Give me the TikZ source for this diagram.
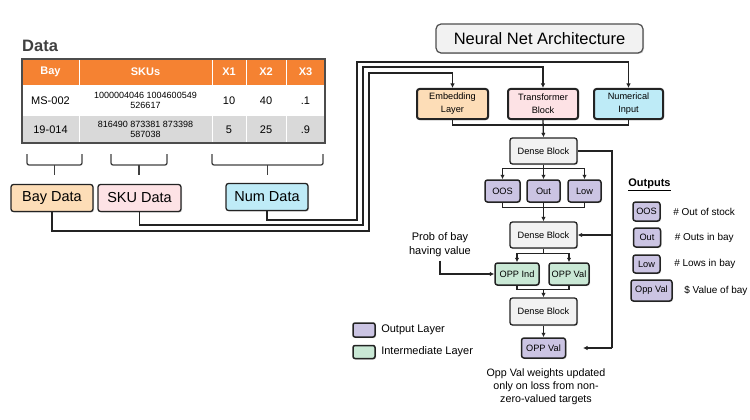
\documentclass[tikz,border=0pt]{standalone}
\usepackage{fontspec}
\setmainfont{Liberation Sans}
\usetikzlibrary{arrows.meta,positioning,shadows}
\definecolor{ink}{RGB}{35,35,35}
\definecolor{titlegray}{RGB}{64,64,64}
\definecolor{hdrorange}{RGB}{245,130,50}
\definecolor{rowgray}{RGB}{217,217,217}
\definecolor{peach}{RGB}{253,221,183}
\definecolor{pinkish}{RGB}{253,226,229}
\definecolor{skyblue}{RGB}{190,235,247}
\definecolor{lgray}{RGB}{242,242,242}
\definecolor{lilac}{RGB}{203,196,227}
\definecolor{mint}{RGB}{201,232,213}
\newcommand{\fsz}[2]{\fontsize{#1}{#2}\selectfont}
\begin{document}
\begin{tikzpicture}[x=1pt,y=-1pt,
    ln/.style={draw=ink,line width=1.3pt},
    arr/.style={ln,-{Latex[length=4.5pt,width=4.5pt]}},
    blk/.style={draw=ink,rounded corners=2.5pt,align=center,inner sep=1pt,
      drop shadow={shadow xshift=1pt,shadow yshift=-1pt,opacity=.35}},
    datbox/.style={blk,line width=1.3pt,minimum width=82,minimum height=27,font=\fsz{14.5}{16}},
    netbox/.style={blk,line width=2pt,minimum width=70,minimum height=30,font=\fsz{9.2}{13}},
    dense/.style={blk,fill=lgray,line width=1.3pt,minimum width=67,minimum height=26,font=\fsz{9.2}{11}},
    outbox/.style={blk,fill=lilac,line width=1.5pt,minimum height=22,font=\fsz{9.2}{11}},
    midbox/.style={blk,fill=mint,line width=1.5pt,minimum height=22,font=\fsz{9.2}{11}},
    hdr/.style={text=white,font=\bfseries\fsz{11}{12}},
    cell/.style={align=center,font=\fsz{11}{12}},
    skucell/.style={align=center,font=\fsz{9}{10.5}},
    note/.style={align=center,font=\fsz{11}{14}}]
  \useasboundingbox (0,0) rectangle (750,420);

  %% data table
  \node[anchor=west,text=titlegray,font=\bfseries\fsz{16.5}{18},inner sep=0pt] (dtitle) at (22,46) {Data};
  \fill[hdrorange] (22,59) rectangle (325,85);
  \fill[white] (22,85) rectangle (325,116);
  \fill[rowgray] (22,116) rectangle (325,143);
  \foreach \cx in {79,212,246,286}
    \draw[white,line width=0.8pt] (\cx,59) -- (\cx,143);
  \draw[gray!60!black,line width=1.2pt] (22,59) rectangle (325,143);
  \foreach \nm/\cx/\txt in {bay/50.5/Bay,skus/145.5/SKUs,xa/229/X1,xb/266/X2,xc/305.5/X3}
    \node[hdr] (h\nm) at (\cx,72) {\txt};
  \node[cell] (abay) at (50.5,100.5) {MS-002};
  \node[skucell] (askus) at (145.5,100.5) {1000004046 1004600549\\526617};
  \node[cell] (axa) at (229,100.5) {10};
  \node[cell] (axb) at (266,100.5) {40};
  \node[cell] (axc) at (305.5,100.5) {.1};
  \node[cell] (bbay) at (50.5,129.5) {19-014};
  \node[skucell] (bskus) at (145.5,129.5) {816490 873381 873398\\587038};
  \node[cell] (bxa) at (229,129.5) {5};
  \node[cell] (bxb) at (266,129.5) {25};
  \node[cell] (bxc) at (305.5,129.5) {.9};

  %% braces
  \foreach \a/\b in {27/82,111/167,212/323}{
    \draw[draw=titlegray,line width=1.3pt,rounded corners=2pt] (\a,154) |- (\b,165) -- (\b,154);
    \draw[draw=titlegray,line width=1.3pt] ({(\a+\b)/2},165) -- ({(\a+\b)/2},175);
  }

  %% input groups
  \node[datbox,fill=peach] (bay) at (52,198) {Bay Data};
  \node[datbox,fill=pinkish,minimum width=83] (sku) at (139.5,198) {SKU Data};
  \node[datbox,fill=skyblue] (num) at (267,197) {Num Data};

  %% network
  \node[blk,fill=lgray,draw=ink!80,line width=1.2pt,rounded corners=5pt,minimum width=207,
    minimum height=29,font=\fsz{16.5}{18}] (nnt) at (539.5,38.5) {Neural Net Architecture};
  \node[netbox,fill=peach,minimum width=71] (emb) at (452.5,104) {Embedding\\Layer};
  \node[netbox,fill=pinkish] (trf) at (543,104) {Transformer\\Block};
  \node[netbox,fill=skyblue,minimum width=69] (numi) at (628.5,104) {Numerical\\Input};

  \draw[arr] (bay.south) |- (369,231) -- (369,73) -| (emb.north);
  \draw[arr] (sku.south) |- (363,225) -- (363,67) -| (trf.north);
  \draw[arr] (num.south) |- (357,220) -- (357,62) -| (numi.north);

  \node[dense] (db1) at (543.5,151) {Dense Block};
  \draw[ln] (emb.south) -- ++(0,5) -| (numi.south);
  \draw[arr] (trf.south) -- (db1.north);

  \node[outbox,minimum width=35] (oos) at (502.5,191) {OOS};
  \node[outbox,minimum width=33] (out) at (543.5,191) {Out};
  \node[outbox,minimum width=33] (low) at (584.5,191) {Low};
  \draw[arr] (db1.south) -- ++(0,4) -| (oos.north);
  \draw[arr] (db1.south) -- ++(0,4) -| (low.north);
  \draw[arr] (db1.south) -- (out.north);

  \node[dense] (db2) at (543.5,235) {Dense Block};
  \draw[ln] (oos.south) -- ++(0,5) -| (low.south);
  \draw[arr] (out.south) -- (db2.north);

  \node[midbox,minimum width=44] (oind) at (517,274) {OPP Ind};
  \node[midbox,minimum width=40] (oval) at (569,274) {OPP Val};
  \draw[arr] (db2.south) -- ++(0,5) -| (oind.north);
  \draw[arr] (db2.south) -- ++(0,5) -| (oval.north);

  \node[note] (prob) at (440,245) {Prob of bay\\having value};
  \draw[arr] (prob.south) |- (oind.west);

  \node[dense,minimum height=27] (db3) at (543.5,311.5) {Dense Block};
  \coordinate (jn) at (543.5,289);
  \draw[ln] (oind.south) -- ++(0,4) -| (oval.south);
  \draw[arr] (jn) -- (db3.north);

  \node[outbox,minimum width=44,minimum height=20] (opv) at (543.5,348) {OPP Val};
  \draw[arr] (db3.south) -- (opv.north);

  %% skip path
  \coordinate (rt) at (612,151);
  \coordinate (rb) at (612,348);
  \coordinate (opvin) at (583,348);
  \draw[ln] (db1.east) -- (rt) -- (rb);
  \draw[arr] (rt |- db2.east) -- (db2.east);
  \draw[arr] (rb) -- (opvin);

  \node[align=center,font=\fsz{10.7}{13}] (cap) at (546,387)
    {Opp Val weights updated\\only on loss from non-\\zero-valued targets};

  %% legend
  \node[outbox,minimum width=22,minimum height=14,rounded corners=2pt] (lgo) at (364,330) {};
  \node[right=2pt of lgo,font=\fsz{11}{13}] (lgot) {Output Layer};
  \node[midbox,minimum width=22,minimum height=13,rounded corners=2pt] (lgi) at (364,352) {};
  \node[right=2pt of lgi,font=\fsz{11}{13}] (lgit) {Intermediate Layer};

  %% outputs key
  \node[font=\bfseries\fsz{11}{13}] (okey) at (649.5,185) {\underline{Outputs}};
  \node[outbox,minimum width=27,minimum height=19] (k1) at (646.5,211.5) {OOS};
  \node[right=9pt of k1,font=\fsz{10}{11}] (k1t) {\# Out of stock};
  \node[outbox,minimum width=27,minimum height=19] (k2) at (647,237.5) {Out};
  \node[right=10pt of k2,font=\fsz{10}{11}] (k2t) {\# Outs in bay};
  \node[outbox,minimum width=27,minimum height=18] (k3) at (646.5,264) {Low};
  \node[right=10pt of k3,font=\fsz{10}{11}] (k3t) {\# Lows in bay};
  \node[outbox,minimum width=41,minimum height=21] (k4) at (651.5,290.5) {Opp Val};
  \node[right=8pt of k4,font=\fsz{10}{11}] (k4t) {\$ Value of bay};
\end{tikzpicture}
\end{document}
